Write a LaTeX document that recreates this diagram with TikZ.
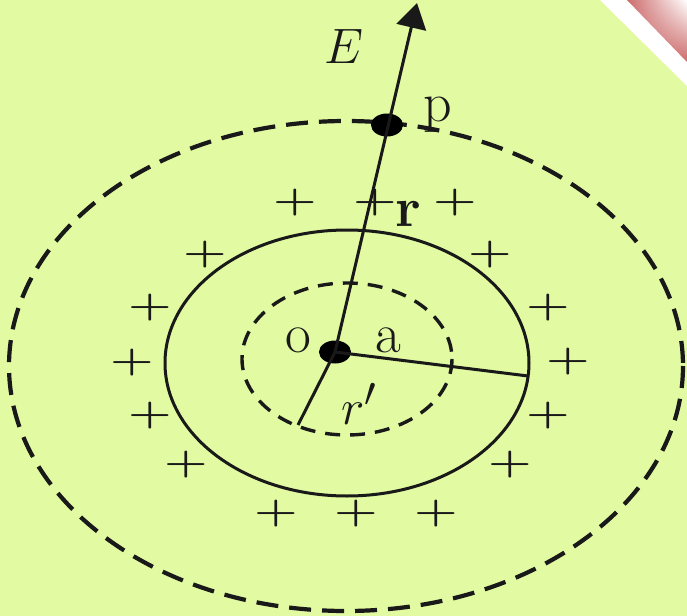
\documentclass[tikz,border=0pt]{standalone}
\usetikzlibrary{arrows.meta,shapes.geometric,shadings}
\definecolor{bgyellow}{RGB}{226,250,162}
\definecolor{cornerred}{RGB}{205,108,108}
\newcommand{\chargesign}{\scalebox{1}[0.72]{\boldmath$+$}}

\begin{document}
\begin{tikzpicture}[
  x=0.5pt, y=-0.5pt,
  line/.style={line width=1.5pt, draw=black!90},
  shell/.style={line width=1.7pt, draw=black!90, dash pattern=on 7.5pt off 5pt},
  outershell/.style={line width=2.1pt, draw=black!90, dash pattern=on 11pt off 5.5pt},
  dot/.style={ellipse, fill=black, inner sep=0pt, minimum width=16pt, minimum height=11.5pt},
  charge/.style={font=\fontsize{27}{30}\selectfont, text=black!90, inner sep=0pt},
  lbl/.style={font=\fontsize{28}{30}\selectfont, text=black!90, inner sep=0pt},
]
\useasboundingbox (0,0) rectangle (687,616);
\fill[bgyellow] (0,0) rectangle (687,616);
% corner band
\fill[white] (600,0) -- (687,0) -- (687,86) -- cycle;
\shade[upper left=cornerred, lower left=cornerred, lower right=cornerred, upper right=white]
  (627,0) -- (687,0) -- (687,62) -- cycle;
% gaussian surface, sphere, inner surface
\draw[outershell] (346,366) ellipse [x radius=337, y radius=245];
\draw[line] (347,363) ellipse [x radius=182, y radius=133];
\draw[shell] (347,359) ellipse [x radius=105, y radius=76];
% charges on the sphere
\foreach \px/\py [count=\i] in {295/203, 375/203, 455/203, 205/255, 490/255,
    150/308, 548/308, 132/363, 568/362, 150/416, 548/416,
    186/465, 510/465, 276/514, 356/514, 436/514}
  \node[charge] (q\i) at (\px,\py) {\chargesign};
% points and radii
\node[dot] (O) at (335,352) {};
\node[dot] (P) at (387,125) {};
\coordinate (Etip) at (417,3);
\coordinate (aend) at (528,376);
\coordinate (rend) at (298,425);
\draw[line, -{Triangle[width=15pt,length=12.5pt]}] (O.center) -- (Etip);
\draw[line] (O.center) -- (aend);
\draw[line] (O.center) -- (rend);
% labels
\node[lbl] (Elbl) at (344,46) {$E$};
\node[lbl] (plbl) at (438,115) {p};
\node[lbl] (rlbl) at (408,214) {\textbf{r}};
\node[lbl] (olbl) at (298,340) {o};
\node[lbl] (albl) at (388,340) {a};
\node[lbl] (rplbl) at (359,404) {$r'$};
\end{tikzpicture}
\end{document}
